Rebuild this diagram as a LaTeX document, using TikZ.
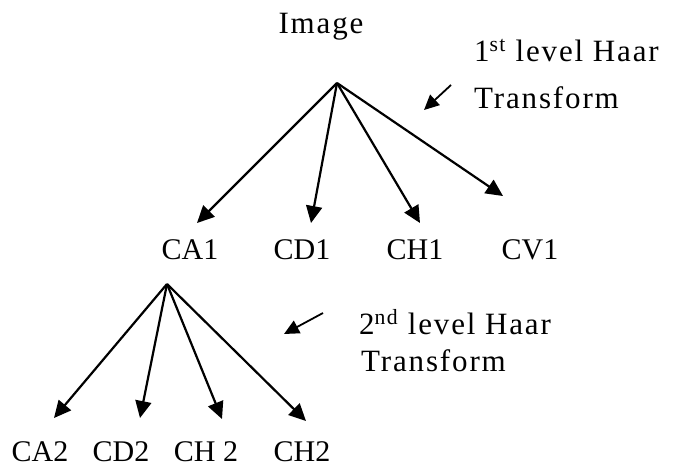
\documentclass[tikz,border=0pt]{standalone}
\usepackage{fontspec}
\setmainfont{Liberation Serif}
\usetikzlibrary{arrows.meta}
\tikzset{
  coef/.style={font=\fontsize{30}{34}\selectfont, inner sep=0pt, anchor=base},
  prose/.style={font=\fontsize{31}{35}\selectfont\addfontfeature{LetterSpace=6},
                inner sep=0pt, anchor=base west},
  branch/.style={line width=2.2pt, -{Triangle[length=17pt,width=16pt]}},
  hint/.style={line width=1.8pt, -{Triangle[length=15pt,width=14pt]}},
}
\begin{document}
\begin{tikzpicture}[x=1pt,y=-1pt]
  \useasboundingbox (0,0) rectangle (677,466);

  % first level
  \node[prose, anchor=base] (img) at (321,33) {Image};
  \coordinate (top1) at (337,83);
  \coordinate (tCA1) at (197,223);
  \coordinate (tCD1) at (311,223);
  \coordinate (tCH1) at (420,223);
  \coordinate (tCV1) at (503,196);
  \draw[branch] (top1) -- (tCA1);
  \draw[branch] (top1) -- (tCD1);
  \draw[branch] (top1) -- (tCH1);
  \draw[branch] (top1) -- (tCV1);

  \node[coef] (ca1) at (190,259) {CA1};
  \node[coef] (cd1) at (302,259) {CD1};
  \node[coef] (ch1) at (415,259) {CH1};
  \node[coef] (cv1) at (530,259) {CV1};

  \node[prose] (lvl1a) at (474,61) {1\textsuperscript{st} level Haar};
  \node[prose] (lvl1b) at (474,108) {Transform};
  \coordinate (h1s) at (451,85);
  \coordinate (h1e) at (424,110);
  \draw[hint] (h1s) -- (h1e);

  % second level
  \coordinate (top2) at (167,284);
  \coordinate (tCA2) at (54,418);
  \coordinate (tCD2) at (140,418);
  \coordinate (tCH2a) at (222,419);
  \coordinate (tCH2b) at (306,421);
  \draw[branch] (top2) -- (tCA2);
  \draw[branch] (top2) -- (tCD2);
  \draw[branch] (top2) -- (tCH2a);
  \draw[branch] (top2) -- (tCH2b);

  \node[coef] (ca2) at (40,461) {CA2};
  \node[coef] (cd2) at (121,461) {CD2};
  \node[coef] (ch2a) at (206,461) {CH 2};
  \node[coef] (ch2b) at (302,461) {CH2};

  \node[prose] (lvl2a) at (359,334) {2\textsuperscript{nd} level Haar};
  \node[prose] (lvl2b) at (361,371) {Transform};
  \coordinate (h2s) at (323,313);
  \coordinate (h2e) at (284,334);
  \draw[hint] (h2s) -- (h2e);
\end{tikzpicture}
\end{document}
